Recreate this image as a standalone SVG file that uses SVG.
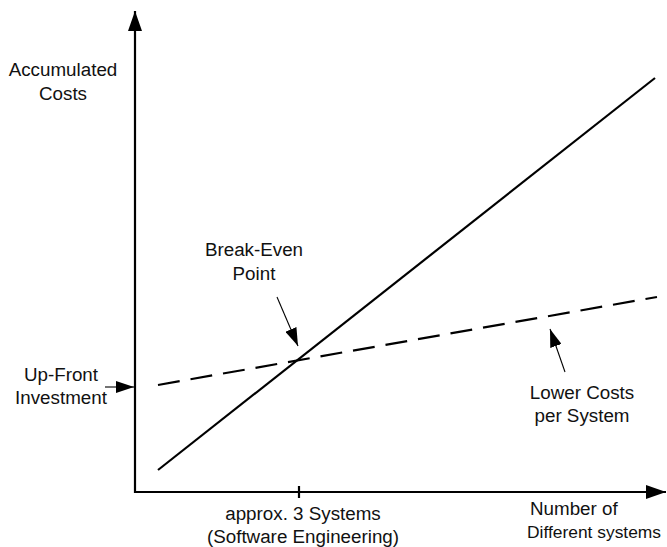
<svg xmlns="http://www.w3.org/2000/svg" width="667" height="547" viewBox="0 0 667 547">
  <style>
    .lbl { font-family: "Liberation Sans", Arial, sans-serif; font-size: 18.8px; fill: #111; text-anchor: middle; }
    .left { text-anchor: start; }
    .narrow { font-size: 17.4px; }
    .axis { stroke: #000; stroke-width: 2.2; fill: none; }
    .curve { stroke: #000; stroke-width: 2.2; fill: none; }
    .dashed { stroke-dasharray: 22 11; }
    .pointer { stroke: #000; stroke-width: 1.1; fill: none; }
  </style>
  <defs>
    <marker id="bigHead" viewBox="0 0 20 14" refX="20" refY="7" markerWidth="20" markerHeight="14" markerUnits="userSpaceOnUse" orient="auto">
      <path d="M0,0 L20,7 L0,14 Z" fill="#000"/>
    </marker>
    <marker id="smallHead" viewBox="0 0 18 12" refX="18" refY="6" markerWidth="18" markerHeight="12" markerUnits="userSpaceOnUse" orient="auto">
      <path d="M0,0 L18,6 L0,12 Z" fill="#000"/>
    </marker>
  </defs>

  <!-- axes -->
  <g id="axes">
    <line class="axis" x1="135" y1="493" x2="135" y2="11" marker-end="url(#bigHead)"/>
    <line class="axis" x1="134" y1="492" x2="666" y2="492" marker-end="url(#bigHead)"/>
    <line class="axis" x1="299" y1="486" x2="299" y2="498"/>
  </g>

  <!-- cost curves -->
  <g id="connectors">
    <line id="conventional" class="curve" x1="158" y1="470" x2="655" y2="78"/>
    <line id="product-line" class="curve dashed" x1="158" y1="385" x2="657" y2="297"/>
    <line class="pointer" x1="277" y1="297" x2="298" y2="346" marker-end="url(#smallHead)"/>
    <line class="pointer" x1="565" y1="372" x2="550" y2="329" marker-end="url(#smallHead)"/>
    <line class="pointer" x1="105" y1="387" x2="134" y2="387" marker-end="url(#smallHead)"/>
  </g>

  <g id="y-label">
    <text class="lbl" x="63" y="76">Accumulated</text>
    <text class="lbl" x="63" y="100">Costs</text>
  </g>
  <g id="upfront-label">
    <text class="lbl" x="61" y="381">Up-Front</text>
    <text class="lbl" x="61" y="404">Investment</text>
  </g>
  <g id="breakeven-label">
    <text class="lbl" x="254" y="256">Break-Even</text>
    <text class="lbl" x="254" y="280">Point</text>
  </g>
  <g id="lowercost-label">
    <text class="lbl" x="582" y="399">Lower Costs</text>
    <text class="lbl" x="582" y="422">per System</text>
  </g>
  <g id="x-label">
    <text class="lbl left" x="530" y="515">Number of</text>
    <text class="lbl left narrow" x="527" y="538">Different systems</text>
  </g>
  <g id="tick-label">
    <text class="lbl" x="303" y="520">approx. 3 Systems</text>
    <text class="lbl" x="303" y="543">(Software Engineering)</text>
  </g>
</svg>
